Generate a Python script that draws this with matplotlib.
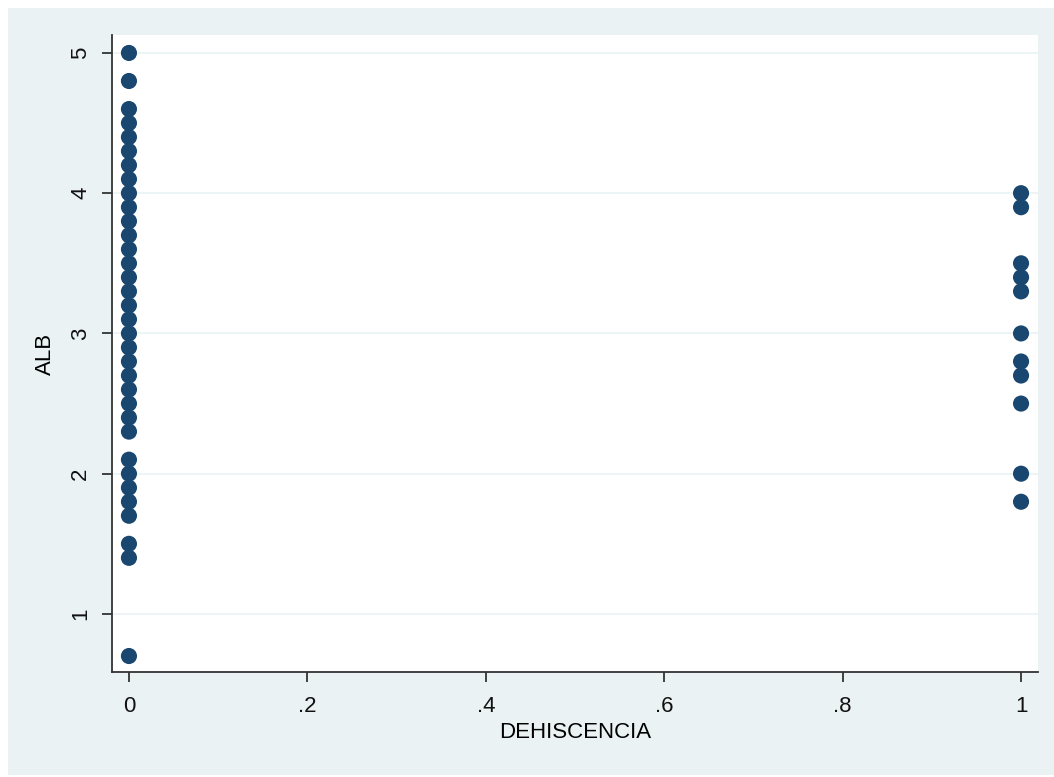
import matplotlib
matplotlib.use("Agg")
import matplotlib.pyplot as plt
from matplotlib.patches import Rectangle

# ALB values, grouped by DEHISCENCIA
alb_dehis0 = [5.0, 4.8, 4.6, 4.5, 4.4, 4.3, 4.2, 4.1, 4.0, 3.9, 3.8, 3.7, 3.6,
              3.5, 3.4, 3.3, 3.2, 3.1, 3.0, 2.9, 2.8, 2.7, 2.6, 2.5, 2.4, 2.3,
              2.1, 2.0, 1.9, 1.8, 1.7, 1.5, 1.4, 0.7]
alb_dehis1 = [4.0, 3.9, 3.5, 3.4, 3.3, 3.0, 2.8, 2.7, 2.5, 2.0, 1.8]

x_ticks = [0, 0.2, 0.4, 0.6, 0.8, 1]
x_labels = ["0", ".2", ".4", ".6", ".8", "1"]
y_ticks = [1, 2, 3, 4, 5]

plt.rcParams['font.family'] = ['Liberation Sans', 'DejaVu Sans']

navy = "#1a476f"
bg = "#eaf2f3"

fig = plt.figure(figsize=(10.54, 7.77), dpi=100, facecolor="white")
# light graph region with a thin white border round it
fig.add_artist(Rectangle((8 / 1054, 2 / 777), 1 - 8 / 1054, 1 - 10 / 777,
                         transform=fig.transFigure, facecolor=bg,
                         edgecolor="none", zorder=-10))

ax = fig.add_axes([112 / 1054, 105 / 777, 926 / 1054, 637 / 777])
ax.set_facecolor("white")

xs = [0] * len(alb_dehis0) + [1] * len(alb_dehis1)
ys = alb_dehis0 + alb_dehis1
ax.scatter(xs, ys, s=135, color=navy, edgecolors="none", zorder=3, clip_on=False)

ax.set_xlim(-0.019, 1.019)
ax.set_ylim(0.586, 5.128)

ax.set_xticks(x_ticks)
ax.set_xticklabels(x_labels)
ax.set_yticks(y_ticks)
ax.set_yticklabels([str(t) for t in y_ticks], rotation=90, va="center")

ax.grid(axis="y", color="#eaf2f3", linewidth=1.2, zorder=1)
ax.grid(axis="x", visible=False)

for side in ["top", "right"]:
    ax.spines[side].set_visible(False)
for side in ["left", "bottom"]:
    ax.spines[side].set_color("#333333")
    ax.spines[side].set_linewidth(1.3)

ax.tick_params(axis="both", direction="out", length=7, width=1.3,
               color="#333333", labelsize=16, labelcolor="#111111")
ax.tick_params(axis="x", pad=10)
ax.tick_params(axis="y", pad=8)

ax.set_xlabel("DEHISCENCIA", fontsize=16, labelpad=4)
ax.set_ylabel("ALB", fontsize=16, labelpad=10)

fig.savefig("out.png", dpi=100, facecolor=fig.get_facecolor())
